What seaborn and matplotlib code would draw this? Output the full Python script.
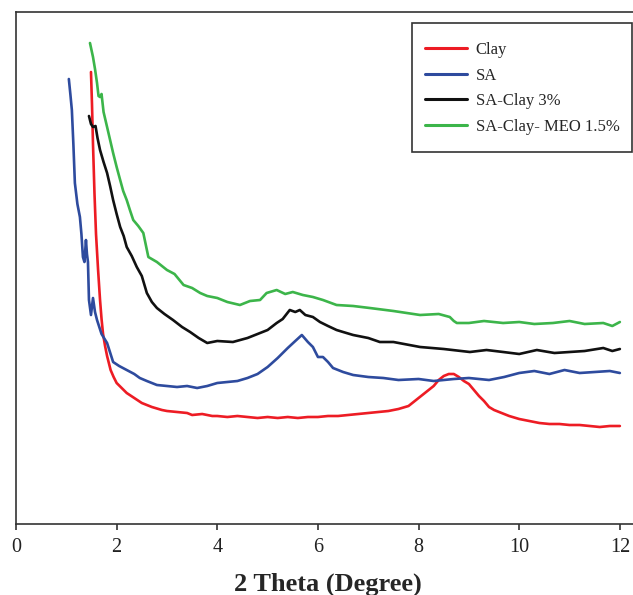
import matplotlib
matplotlib.use("Agg")
import matplotlib.pyplot as plt
import matplotlib.patches as mpatches
import seaborn as sns
import pandas as pd

# ---- data ----
clay_x = [1.49, 1.51, 1.53, 1.56, 1.59, 1.63, 1.67, 1.70, 1.73, 1.77, 1.81, 1.85, 1.88, 1.94, 2.0, 2.1,
          2.2, 2.35, 2.5, 2.7, 2.9, 3.0, 3.2, 3.4, 3.5, 3.7, 3.9, 4.0, 4.2, 4.4, 4.6, 4.8, 5.0, 5.2, 5.4,
          5.6, 5.8, 6.0, 6.2, 6.4, 6.6, 6.8, 7.0, 7.2, 7.4, 7.6, 7.8, 7.9, 8.0, 8.1, 8.2, 8.3, 8.4, 8.5,
          8.6, 8.7, 8.8, 8.9, 9.0, 9.1, 9.2, 9.3, 9.4, 9.5, 9.6, 9.8, 10.0, 10.2, 10.4, 10.6, 10.8, 11.0,
          11.2, 11.4, 11.6, 11.8, 12.0]
clay_y = [452, 420, 380, 330, 290, 255, 224, 205, 190, 178, 168, 160, 154, 147, 141, 136, 131, 126, 121,
          117, 114, 113, 112, 111, 109, 110, 108, 108, 107, 108, 107, 106, 107, 106, 107, 106, 107, 107,
          108, 108, 109, 110, 111, 112, 113, 115, 118, 122, 126, 130, 134, 138, 144, 148, 150, 150, 147,
          143, 140, 134, 128, 123, 117, 114, 112, 108, 105, 103, 101, 100, 100, 99, 99, 98, 97, 98, 98]

sa_x = [1.05, 1.08, 1.11, 1.14, 1.17, 1.22, 1.27, 1.30, 1.33, 1.36, 1.39, 1.41, 1.43, 1.45, 1.49, 1.53,
        1.57, 1.61, 1.70, 1.81, 1.93, 2.05, 2.2, 2.35, 2.46, 2.6, 2.8, 3.0, 3.2, 3.4, 3.6, 3.8, 4.0, 4.2,
        4.4, 4.6, 4.8, 5.0, 5.2, 5.4, 5.55, 5.68, 5.8, 5.9, 6.0, 6.1, 6.2, 6.3, 6.5, 6.7, 7.0, 7.3, 7.6,
        8.0, 8.3, 8.7, 9.0, 9.4, 9.7, 10.0, 10.3, 10.6, 10.9, 11.2, 11.5, 11.8, 12.0]
sa_y = [445, 430, 414, 380, 341, 320, 307, 290, 267, 262, 284, 270, 262, 224, 209, 226, 212, 204, 190,
        181, 162, 158, 154, 150, 146, 143, 139, 138, 137, 138, 136, 138, 141, 142, 143, 146, 150, 157,
        166, 176, 183, 189, 182, 177, 167, 167, 162, 156, 152, 149, 147, 146, 144, 145, 143, 145, 146,
        144, 147, 151, 153, 150, 154, 151, 152, 153, 151]

sac_x = [1.45, 1.49, 1.53, 1.58, 1.62, 1.67, 1.74, 1.81, 1.87, 1.93, 2.0, 2.07, 2.14, 2.2, 2.3, 2.4,
         2.5, 2.6, 2.7, 2.8, 2.95, 3.12, 3.3, 3.46, 3.63, 3.8, 4.0, 4.31, 4.6, 4.85, 5.0, 5.18, 5.3,
         5.44, 5.55, 5.64, 5.75, 5.9, 6.04, 6.2, 6.37, 6.5, 6.7, 7.0, 7.23, 7.5, 8.03, 8.5, 9.02, 9.35,
         9.68, 10.0, 10.35, 10.7, 11.0, 11.3, 11.67, 11.85, 12.0]
sac_y = [408, 400, 397, 398, 386, 374, 362, 351, 338, 324, 310, 297, 288, 277, 268, 257, 248, 231, 222,
         216, 210, 204, 197, 192, 186, 181, 183, 182, 186, 191, 194, 201, 205, 214, 212, 214, 209, 207,
         202, 198, 194, 192, 189, 186, 182, 182, 177, 175, 172, 174, 172, 170, 174, 171, 172, 173, 176,
         173, 175]

meo_x = [1.47, 1.50, 1.53, 1.57, 1.61, 1.64, 1.67, 1.70, 1.74, 1.81, 1.87, 1.93, 2.0, 2.07, 2.13, 2.2,
         2.27, 2.33, 2.43, 2.53, 2.63, 2.8, 3.0, 3.15, 3.33, 3.5, 3.66, 3.8, 4.0, 4.2, 4.45, 4.65, 4.85,
         4.98, 5.18, 5.35, 5.5, 5.7, 5.9, 6.1, 6.37, 6.7, 7.03, 7.5, 8.03, 8.4, 8.62, 8.7, 8.76, 9.0,
         9.3, 9.68, 10.0, 10.3, 10.67, 11.0, 11.3, 11.67, 11.85, 12.0]
meo_y = [481, 474, 467, 455, 441, 428, 427, 430, 412, 397, 384, 371, 357, 344, 333, 324, 313, 304, 298,
         291, 267, 262, 254, 250, 239, 236, 231, 228, 226, 222, 219, 223, 224, 231, 234, 230, 232, 229,
         227, 224, 219, 218, 216, 213, 209, 210, 207, 203, 201, 201, 203, 201, 202, 200, 201, 203, 200,
         201, 198, 202]

labels = ["Clay", "SA", "SA-Clay 3%", "SA-Clay- MEO 1.5%"]
colors = ["#ED1C24", "#2E4B9E", "#111111", "#3CB54A"]
x_ticks = [0, 2, 4, 6, 8, 10, 12]
x_label = "2 Theta (Degree)"

frames = []
for lab, xs, ys in zip(labels, [clay_x, sa_x, sac_x, meo_x], [clay_y, sa_y, sac_y, meo_y]):
    frames.append(pd.DataFrame({"x": xs, "y": ys, "sample": lab}))
df = pd.concat(frames, ignore_index=True)

sns.set_style("white")
plt.rcParams["font.family"] = ["Liberation Serif", "DejaVu Serif"]

W, H = 633, 595
fig = plt.figure(figsize=(W / 100, H / 100), dpi=100)
ax = fig.add_axes([16 / W, 71 / H, 624 / W, 512 / H])

sns.lineplot(data=df, x="x", y="y", hue="sample", hue_order=labels, palette=colors,
             sort=False, estimator=None, units="sample", linewidth=1.9, ax=ax, legend=True)

ax.set_xlim(0, 12.4)
ax.set_ylim(0, 512)
ax.set_xticks(x_ticks)
ax.set_xticklabels([str(t) for t in x_ticks])
ax.set_yticks([])
ax.set_ylabel("")
ax.set_xlabel(x_label, fontsize=19, fontweight="bold", labelpad=11)
ax.tick_params(axis="x", direction="out", length=4, width=1.1, colors="#222222",
               labelsize=14.5, pad=6, bottom=True)
for name, sp in ax.spines.items():
    sp.set_color("#333333")
    sp.set_linewidth(1.2)
ax.spines["right"].set_visible(False)

# legend box (frame drawn separately for exact padding)
def px_to_ax(px, py):
    return (px - 16) / 624, (524 - py) / 512

bx0, by0 = px_to_ax(412, 152)
bx1, by1 = px_to_ax(632, 23)
frame = mpatches.Rectangle((bx0, by0), bx1 - bx0, by1 - by0, transform=ax.transAxes,
                           facecolor="white", edgecolor="#333333", linewidth=1.2,
                           zorder=4.5, clip_on=False)
ax.add_patch(frame)

handles, labs = ax.get_legend_handles_labels()
ax_x, ax_y = px_to_ax(425, 42)
leg = ax.legend(handles, labs, loc="upper left", bbox_to_anchor=(ax_x, ax_y),
                borderaxespad=0, borderpad=0, fontsize=12, frameon=False,
                handlelength=2.5, handletextpad=0.55, labelspacing=0.58)
leg.set_zorder(5)
for lh in leg.get_lines():
    lh.set_linewidth(2.2)

fig.savefig("out.png", dpi=100)
